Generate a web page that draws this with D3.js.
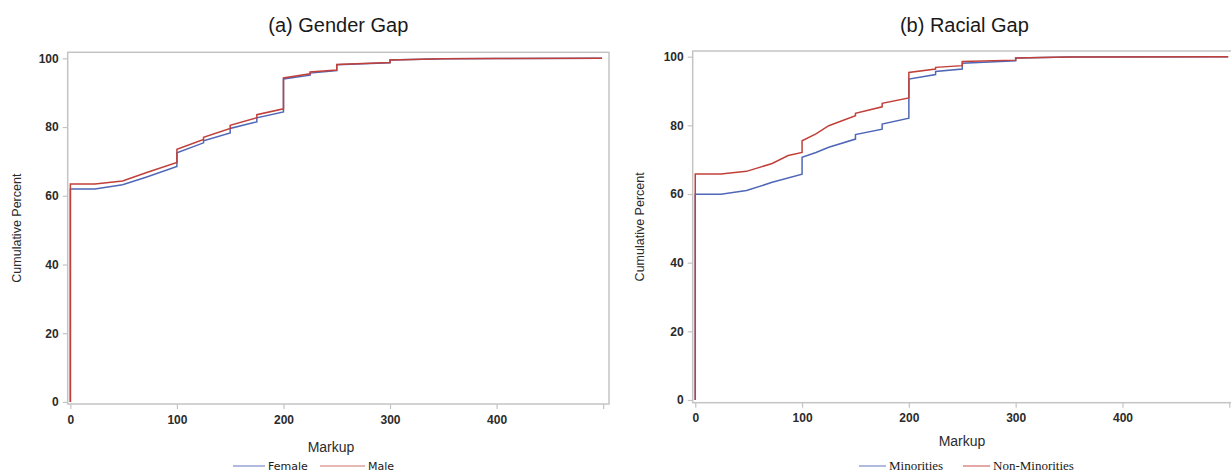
<!DOCTYPE html>
<html>
<head>
<meta charset="utf-8">
<script src="https://cdn.jsdelivr.net/npm/d3@7"></script>
<style>
  body { margin: 0; background: #fff; }
  svg { display: block; }
</style>
</head>
<body>
<svg id="chart" width="1231" height="473"></svg>
<script>
// ticks
const markupTicks = [0, 100, 200, 300, 400, 500];
const percentTicks = [0, 20, 40, 60, 80, 100];

// panel (a) gender gap: [markup, cumulative percent]
const genderNames = ["Female", "Male"];
const femaleCdf = [[0, 0], [0, 62.0], [23, 62.0], [49, 63.2], [71, 65.4], [100, 68.5], [100, 72.5],
  [125, 75.4], [125, 76.0], [150, 78.3], [150, 79.6], [175, 81.5], [175, 82.7], [200, 84.4], [200, 94.0],
  [225, 95.1], [225, 95.7], [250, 96.4], [250, 98.1], [300, 98.7], [300, 99.5], [350, 99.85], [400, 99.95], [499, 100]];
const maleCdf = [[0, 0], [0, 63.4], [23, 63.4], [49, 64.3], [71, 66.7], [100, 69.7], [100, 73.5],
  [125, 76.4], [125, 77.0], [150, 79.6], [150, 80.5], [175, 82.7], [175, 83.6], [200, 85.3], [200, 94.3],
  [225, 95.5], [225, 96.0], [250, 96.6], [250, 98.2], [300, 98.8], [300, 99.5], [350, 99.85], [400, 99.95], [499, 100]];

// panel (b) racial gap
const raceNames = ["Minorities", "Non-Minorities"];
const minorityCdf = [[0, 0], [0, 59.9], [24, 59.9], [48, 61.0], [72, 63.4], [100, 65.8], [100, 70.7],
  [113, 72.1], [125, 73.6], [150, 76.0], [150, 77.3], [175, 78.9], [175, 80.4], [200, 82.1], [200, 93.5],
  [225, 94.8], [225, 95.7], [250, 96.4], [250, 98.1], [300, 98.8], [300, 99.6], [350, 99.9], [499, 100]];
const nonMinorityCdf = [[0, 0], [0, 65.8], [24, 65.8], [48, 66.6], [72, 68.9], [87, 71.2], [100, 72.1], [100, 75.5],
  [113, 77.5], [125, 79.9], [150, 82.8], [150, 83.5], [175, 85.4], [175, 86.4], [200, 88.0], [200, 95.4],
  [225, 96.4], [225, 96.9], [250, 97.4], [250, 98.6], [300, 99.0], [300, 99.6], [350, 99.9], [499, 100]];

const colors = ["#4f67b6", "#c1403a"];
const frameColor = "#c4c4c4";

// small stand-in for d3-selection-multi
d3.selection.prototype.attrs = function(obj) {
  Object.entries(obj).forEach(([k, v]) => this.attr(k, v));
  return this;
};

const svg = d3.select("#chart");
svg.append("rect").attr("width", 1231).attr("height", 473).attr("fill", "#fff");

function drawPanel(p) {
  let g = svg.append("g");
  let x = d3.scaleLinear().domain(p.xDomain).range([p.left, p.right]);
  let y = d3.scaleLinear().domain(p.yDomain).range([p.bottom, p.top]);

  // frame
  g.append("rect")
    .attrs({ x: p.left, y: p.top, width: p.right - p.left, height: p.bottom - p.top,
             fill: "none", stroke: frameColor, "stroke-width": 1.5 });

  let xAxis = g.append("g")
    .attr("transform", `translate(0, ${p.bottom})`)
    .call(d3.axisBottom(x).tickValues(markupTicks).tickSize(5).tickPadding(6)
      .tickFormat(d => d == 500 ? "" : d));
  let yAxis = g.append("g")
    .attr("transform", `translate(${p.left}, 0)`)
    .call(d3.axisLeft(y).tickValues(percentTicks).tickSize(5).tickPadding(4));
  [xAxis, yAxis].forEach(a => {
    a.select(".domain").remove();
    a.selectAll("line").attr("stroke", frameColor).attr("stroke-width", 1.2);
    a.selectAll("text")
      .attr("fill", "#2b2b2b")
      .style("font-family", "'Liberation Sans', Arial, sans-serif")
      .style("font-size", "12px")
      .style("font-weight", "bold");
  });

  let line = d3.line().x(d => x(d[0])).y(d => y(d[1]));
  g.selectAll("path.cdf")
    .data(p.series).enter()
    .append("path")
    .attr("class", "cdf")
    .attrs({ d: line, fill: "none", stroke: (d, i) => colors[i], "stroke-width": 1.5,
             "stroke-linejoin": "miter" });

  // titles and labels
  g.append("text")
    .attrs({ x: (p.left + p.right) / 2, y: 32, "text-anchor": "middle", fill: "#1a1a1a" })
    .style("font-family", "'Liberation Sans', Arial, sans-serif")
    .style("font-size", "20px")
    .text(p.title);
  g.append("text")
    .attrs({ transform: `translate(${p.yLabelX}, ${(p.top + p.bottom) / 2}) rotate(-90)`,
             "text-anchor": "middle", fill: "#2b2b2b" })
    .style("font-family", "'Liberation Sans', Arial, sans-serif")
    .style("font-size", "12.5px")
    .text("Cumulative Percent");
  g.append("text")
    .attrs({ x: p.xLabelX, y: p.xLabelY, "text-anchor": "middle", fill: "#2b2b2b" })
    .style("font-family", "'Liberation Sans', Arial, sans-serif")
    .style("font-size", "14px")
    .text("Markup");

  // legend
  let leg = g.selectAll("g.legend")
    .data(p.names).enter()
    .append("g").attr("class", "legend");
  leg.append("line")
    .attrs({ x1: (d, i) => p.legend[i][0], x2: (d, i) => p.legend[i][1], y1: 466, y2: 466,
             stroke: (d, i) => colors[i], "stroke-width": 1.2, opacity: 0.75 });
  leg.append("text")
    .attrs({ x: (d, i) => p.legend[i][1] + 3, y: 470, fill: "#1a1a1a" })
    .style("font-family", p.legendFont)
    .style("font-size", p.legendSize)
    .text(d => d);
}

drawPanel({
  title: "(a) Gender Gap",
  left: 67.7, right: 609, top: 52.3, bottom: 404,
  xDomain: [-2.5, 505.5], yDomain: [-0.6, 101.75],
  series: [femaleCdf, maleCdf], names: genderNames,
  yLabelX: 21, xLabelX: 331, xLabelY: 452,
  legend: [[233, 265], [320, 365]],
  legendFont: "'DejaVu Sans', Verdana, sans-serif", legendSize: "11px"
});

drawPanel({
  title: "(b) Racial Gap",
  left: 692.7, right: 1236, top: 51, bottom: 402.7,
  xDomain: [-2.4, 506.3], yDomain: [-0.79, 101.66],
  series: [minorityCdf, nonMinorityCdf], names: raceNames,
  yLabelX: 644, xLabelX: 962, xLabelY: 446,
  legend: [[859, 886], [963, 990]],
  legendFont: "'Liberation Serif', 'Times New Roman', serif", legendSize: "13px"
});
</script>
</body>
</html>
